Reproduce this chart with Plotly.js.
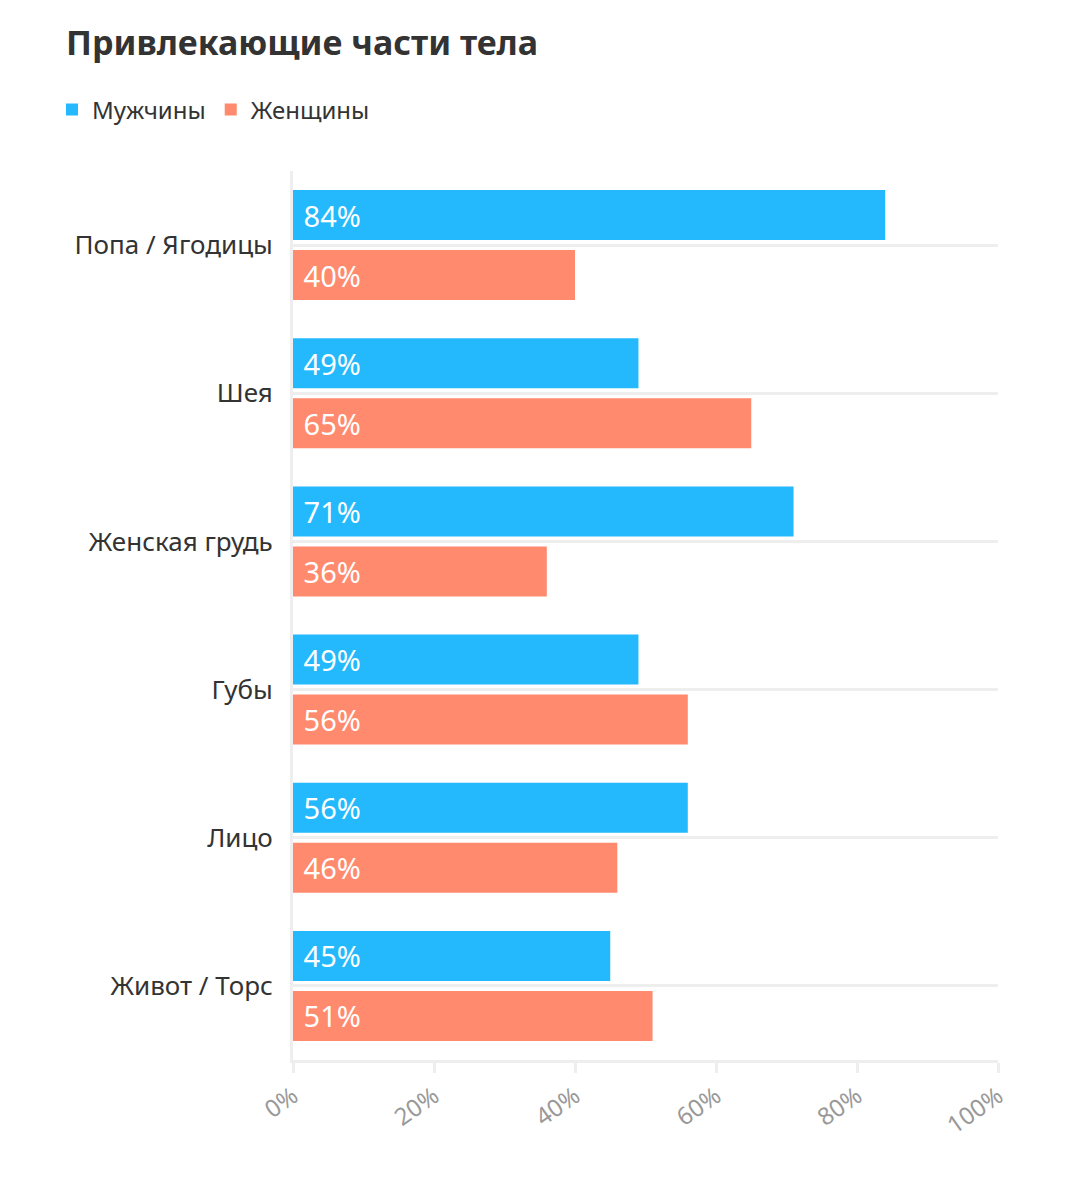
<!DOCTYPE html>
<html>
<head>
<meta charset="utf-8">
<script src="https://cdn.plot.ly/plotly-3.0.1.min.js"></script>
<style>html,body{margin:0;padding:0;background:#fff;}#chart{width:1080px;height:1182px;}</style>
</head>
<body>
<div id="chart"></div>
<script>
const categories = ["Попа / Ягодицы", "Шея", "Женская грудь", "Губы", "Лицо", "Живот / Торс"];
const men = [84, 49, 71, 49, 56, 45];
const women = [40, 65, 36, 56, 46, 51];
const seriesNames = ["Мужчины", "Женщины"];
const tickVals = [0, 20, 40, 60, 80, 100];
const tickLabels = ["0%", "20%", "40%", "60%", "80%", "100%"];

const FONT = "'Noto Sans', 'DejaVu Sans', sans-serif";

function barTrace(name, values, color) {
  return {
    type: 'bar',
    orientation: 'h',
    name: name,
    y: categories,
    x: values,
    marker: {color: color},
    text: values.map(v => '\u00a0' + v + '%'),
    textposition: 'inside',
    insidetextanchor: 'start',
    textfont: {color: '#ffffff', size: 29, family: FONT},
    hoverinfo: 'x+y'
  };
}

const data = [
  barTrace(seriesNames[0], men, '#24b9fd'),
  barTrace(seriesNames[1], women, '#ff8a6e')
];

const layout = {
  width: 1080,
  height: 1182,
  paper_bgcolor: '#ffffff',
  plot_bgcolor: '#ffffff',
  margin: {l: 293, r: 82, t: 171, b: 122},
  font: {family: FONT, color: '#333333'},
  title: {
    text: '<b>Привлекающие части тела</b>',
    font: {size: 34, color: '#333333', family: FONT},
    xref: 'container', yref: 'container',
    x: 66 / 1080, xanchor: 'left',
    y: 1 - 43 / 1182, yanchor: 'middle'
  },
  showlegend: true,
  legend: {
    orientation: 'h',
    x: (52 - 293) / 705, xanchor: 'left',
    y: (1060 - 110) / 889, yanchor: 'middle',
    font: {size: 24, color: '#333333', family: FONT},
    itemwidth: 30,
    traceorder: 'normal'
  },
  barmode: 'group',
  bargap: 0.19,
  bargroupgap: 0.167,
  xaxis: {
    range: [0, 100],
    tickvals: tickVals,
    ticktext: tickLabels,
    tickangle: -35,
    tickfont: {size: 24, color: '#999999', family: FONT},
    showgrid: false,
    zeroline: false,
    showline: true,
    linecolor: '#eeeeee',
    linewidth: 3,
    ticks: 'outside',
    ticklen: 10,
    tickwidth: 3,
    tickcolor: '#eeeeee',
    fixedrange: true
  },
  yaxis: {
    type: 'category',
    autorange: 'reversed',
    showgrid: true,
    gridcolor: '#eeeeee',
    gridwidth: 3,
    zeroline: false,
    showline: true,
    linecolor: '#eeeeee',
    linewidth: 3,
    ticks: '',
    ticklabelstandoff: 12,
    tickfont: {size: 26, color: '#333333', family: FONT},
    fixedrange: true
  }
};

Plotly.newPlot('chart', data, layout, {displayModeBar: false, staticPlot: true});
</script>
</body>
</html>
